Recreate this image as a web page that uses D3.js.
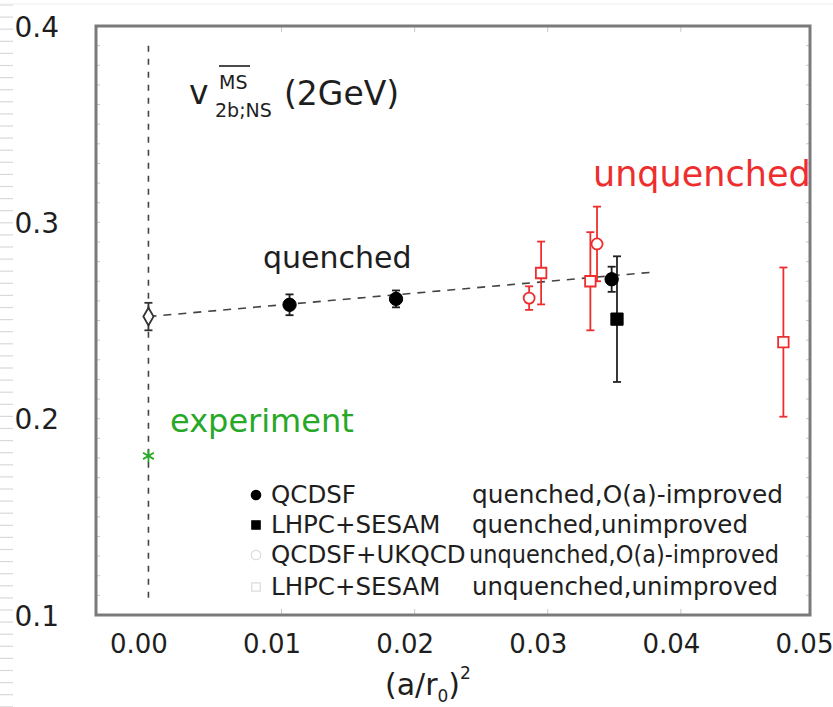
<!DOCTYPE html>
<html>
<head>
<meta charset="utf-8">
<script src="https://cdn.jsdelivr.net/npm/d3@7"></script>
<style>
  body { margin: 0; background: #fff; }
  svg { display: block; font-family: "DejaVu Sans", Verdana, sans-serif; }
</style>
</head>
<body>
<svg id="chart" width="833" height="707"></svg>
<script>
// ---- data ----
const xTicks = [0, 0.01, 0.02, 0.03, 0.04, 0.05];
const yTicks = [0.1, 0.2, 0.3, 0.4];

// QCDSF, quenched, O(a)-improved
const qcdsfX = [0.0106, 0.0186, 0.0348];
const qcdsfY = [0.258, 0.261, 0.271];
const qcdsfErr = [0.0053, 0.0043, 0.0064];

// LHPC+SESAM, quenched, unimproved
const lhpcQX = [0.0352];
const lhpcQY = [0.2507];
const lhpcQErr = [0.032];

// QCDSF+UKQCD, unquenched, O(a)-improved
const ukqcdX = [0.0286, 0.0337];
const ukqcdY = [0.2614, 0.289];
const ukqcdErr = [0.006, 0.019];

// LHPC+SESAM, unquenched, unimproved
const lhpcUX = [0.0295, 0.0332, 0.0477];
const lhpcUY = [0.2742, 0.270, 0.239];
const lhpcUErr = [0.016, 0.025, 0.038];

// continuum extrapolation of the quenched points
const extrapX = [0];
const extrapY = [0.252];
const extrapErr = [0.007];
const fitX = [0, 0.038];
const fitY = [0.252, 0.2747];

// experimental value
const expX = [0];
const expY = [0.181];

const legendNames = ["QCDSF", "LHPC+SESAM", "QCDSF+UKQCD", "LHPC+SESAM"];
const legendDescs = ["quenched,O(a)-improved", "quenched,unimproved",
                     "unquenched,O(a)-improved", "unquenched,unimproved"];

// ---- setup ----
const svg = d3.select("#chart");
const W = 833, H = 707;
const box = { left: 96, right: 810, top: 26, bottom: 615 };

const x = d3.scaleLinear().domain([-0.00394, 0.0497]).range([box.left, box.right]);
const y = d3.scaleLinear().domain([0.1, 0.4]).range([box.bottom, box.top]);

const RED = "#ee2e2e";
const INK = "#1e1e1e";
const GREEN = "#27a827";

// ruled strip on the left page edge
const strip = svg.append("g");
strip.selectAll("line").data(d3.range(5, H, 12.1)).join("line")
  .attr("x1", 0).attr("x2", 13).attr("y1", d => d).attr("y2", d => d)
  .attr("stroke", "#d9d9d9").attr("stroke-width", 1.2);
svg.append("line").attr("x1", 0).attr("x2", W).attr("y1", 4).attr("y2", 4)
  .attr("stroke", "#eeeeee").attr("stroke-width", 1);

// inner tick marks along the frame
const tickG = svg.append("g").attr("stroke", "#c8c8c8").attr("stroke-width", 1);
const innerX = xTicks.filter(t => t > 0 && t < 0.05);
tickG.selectAll(".tb").data(innerX).join("line")
  .attr("x1", d => x(d)).attr("x2", d => x(d))
  .attr("y1", box.bottom).attr("y2", box.bottom - 6);
tickG.selectAll(".tt").data(innerX).join("line")
  .attr("x1", d => x(d)).attr("x2", d => x(d))
  .attr("y1", box.top).attr("y2", box.top + 6);
const yMinor = d3.range(0.11, 0.4, 0.01);
tickG.selectAll(".tr").data(yMinor).join("line")
  .attr("x1", box.right).attr("x2", box.right - 4)
  .attr("y1", d => y(d)).attr("y2", d => y(d));
tickG.selectAll(".tl").data(yMinor).join("line")
  .attr("x1", box.left).attr("x2", box.left + 4)
  .attr("y1", d => y(d)).attr("y2", d => y(d));

// frame
svg.append("rect")
  .attr("x", box.left).attr("y", box.top)
  .attr("width", box.right - box.left).attr("height", box.bottom - box.top)
  .attr("fill", "none").attr("stroke", "#7a7a7a").attr("stroke-width", 3);

// axes (labels only, the frame carries the lines)
const xAxis = svg.append("g")
  .attr("transform", `translate(0,${box.bottom})`)
  .call(d3.axisBottom(x).tickValues(xTicks).tickFormat(d3.format(".2f")).tickSize(0));
xAxis.select(".domain").remove();
xAxis.selectAll("text")
  .attr("dx", -10).attr("y", 20)
  .attr("font-size", 26).attr("fill", INK)
  .attr("font-family", "DejaVu Sans, sans-serif");

const yAxis = svg.append("g")
  .attr("transform", `translate(59,0)`)
  .call(d3.axisLeft(y).tickValues(yTicks).tickFormat(d3.format(".1f")).tickSize(0));
yAxis.select(".domain").remove();
yAxis.selectAll("text")
  .attr("x", 0).attr("dy", "0.36em")
  .attr("font-size", 28).attr("fill", INK)
  .attr("font-family", "DejaVu Sans, sans-serif");

// x-axis title: (a/r0)^2
const xt = svg.append("text").attr("x", 385).attr("y", 695)
  .attr("font-size", 30).attr("fill", INK);
xt.append("tspan").text("(a/r");
xt.append("tspan").attr("font-size", 17).attr("dy", 7).text("0");
xt.append("tspan").attr("dy", -7).text(")");
xt.append("tspan").attr("font-size", 17).attr("dy", -16).text("2");

// vertical dashed line at the continuum limit
svg.append("line")
  .attr("x1", x(0)).attr("x2", x(0))
  .attr("y1", y(0.39)).attr("y2", y(0.107))
  .attr("stroke", "#444").attr("stroke-width", 1.6)
  .attr("stroke-dasharray", "6,7");

// linear fit of the quenched points
svg.append("path")
  .datum(d3.zip(fitX, fitY))
  .attr("d", d3.line().x(d => x(d[0])).y(d => y(d[1])))
  .attr("fill", "none").attr("stroke", "#444").attr("stroke-width", 1.6)
  .attr("stroke-dasharray", "8,7");

// error bars helper
function errorBars(xs, ys, es, color, cap) {
  const g = svg.append("g").attr("stroke", color).attr("stroke-width", 1.8);
  const rows = d3.zip(xs, ys, es);
  g.selectAll(".v").data(rows).join("line")
    .attr("x1", d => x(d[0])).attr("x2", d => x(d[0]))
    .attr("y1", d => y(d[1] - d[2])).attr("y2", d => y(d[1] + d[2]));
  [-1, 1].forEach(s => {
    g.selectAll(".c" + s).data(rows).join("line")
      .attr("x1", d => x(d[0]) - cap).attr("x2", d => x(d[0]) + cap)
      .attr("y1", d => y(d[1] + s * d[2])).attr("y2", d => y(d[1] + s * d[2]));
  });
}

function markers(xs, ys, type, size, fill, stroke, sw) {
  svg.append("g").selectAll("path").data(d3.zip(xs, ys)).join("path")
    .attr("transform", d => `translate(${x(d[0])},${y(d[1])})`)
    .attr("d", d3.symbol().type(type).size(size))
    .attr("fill", fill).attr("stroke", stroke).attr("stroke-width", sw);
}

errorBars(extrapX, extrapY, extrapErr, "#333", 4);
errorBars(qcdsfX, qcdsfY, qcdsfErr, INK, 4);
errorBars(lhpcQX, lhpcQY, lhpcQErr, "#222", 4);
errorBars(lhpcUX, lhpcUY, lhpcUErr, RED, 4);
errorBars(ukqcdX, ukqcdY, ukqcdErr, RED, 4);

markers(extrapX, extrapY, d3.symbolDiamond, 90, "#fff", "#333", 1.8);
markers(qcdsfX, qcdsfY, d3.symbolCircle, 140, "#000", "#000", 1);
markers(lhpcQX, lhpcQY, d3.symbolSquare, 150, "#000", "#000", 1);
markers(lhpcUX, lhpcUY, d3.symbolSquare, 110, "#fff", RED, 1.8);
markers(ukqcdX, ukqcdY, d3.symbolCircle, 95, "#fff", RED, 1.8);

// experiment: green asterisk
const starType = d3.symbolAsterisk || d3.symbolCross;
svg.append("g").selectAll("path").data(d3.zip(expX, expY)).join("path")
  .attr("transform", d => `translate(${x(d[0])},${y(d[1])})`)
  .attr("d", d3.symbol().type(starType).size(110))
  .attr("fill", "none").attr("stroke", GREEN).attr("stroke-width", 1.8);

// annotations
svg.append("text").attr("x", 170).attr("y", 432)
  .attr("font-size", 32).attr("fill", GREEN).text("experiment");
svg.append("text").attr("x", 263).attr("y", 268)
  .attr("font-size", 30).attr("fill", INK).text("quenched");
svg.append("text").attr("x", 593).attr("y", 186)
  .attr("font-size", 35).attr("fill", RED).text("unquenched");

// observable label: v_{2b;NS}^{MSbar} (2GeV)
svg.append("text").attr("x", 189).attr("y", 104)
  .attr("font-size", 33).attr("fill", INK).text("v");
svg.append("text").attr("x", 219).attr("y", 89)
  .attr("font-size", 19).attr("fill", INK).text("MS");
svg.append("line").attr("x1", 219).attr("x2", 250).attr("y1", 66).attr("y2", 66)
  .attr("stroke", INK).attr("stroke-width", 1.6);
svg.append("text").attr("x", 215).attr("y", 117)
  .attr("font-size", 19).attr("fill", INK).text("2b;NS");
svg.append("text").attr("x", 284).attr("y", 105)
  .attr("font-size", 33).attr("fill", INK).text("(2GeV)");

// legend
const legY = [503, 533, 563, 595];
const legMarkerType = [d3.symbolCircle, d3.symbolSquare, d3.symbolCircle, d3.symbolSquare];
const legFill = ["#000", "#000", "#fff", "#fff"];
const legStroke = ["#000", "#000", "#dcdcdc", "#dcdcdc"];
const legDescLen = [311, 276, 310, 306];
const leg = svg.append("g");
legY.forEach((ly, i) => {
  leg.append("path")
    .attr("transform", `translate(256,${ly - 8})`)
    .attr("d", d3.symbol().type(legMarkerType[i]).size(70))
    .attr("fill", legFill[i]).attr("stroke", legStroke[i]).attr("stroke-width", 1.2);
  leg.append("text").attr("x", 271).attr("y", ly)
    .attr("font-size", 24.5).attr("fill", INK).text(legendNames[i]);
  leg.append("text").attr("x", i === 2 ? 469 : 472).attr("y", ly)
    .attr("font-size", 24.5).attr("fill", INK)
    .attr("textLength", legDescLen[i]).attr("lengthAdjust", "spacingAndGlyphs")
    .text(legendDescs[i]);
});
</script>
</body>
</html>
